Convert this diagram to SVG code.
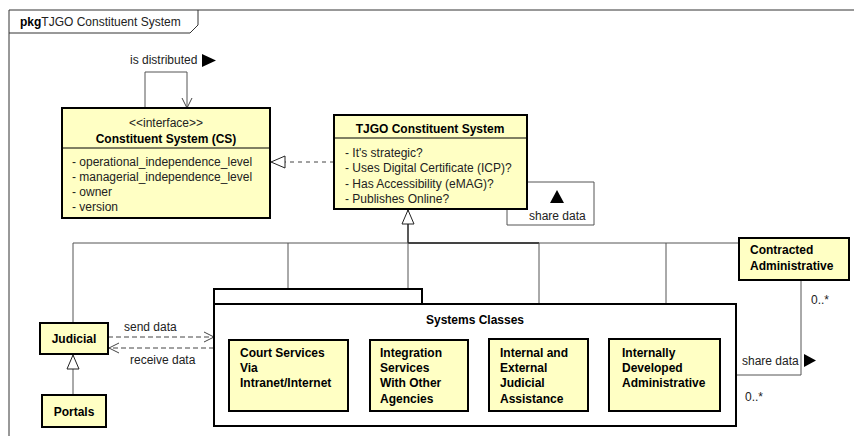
<svg xmlns="http://www.w3.org/2000/svg" width="854" height="436" viewBox="0 0 854 436">
<style>
text{font-family:"Liberation Sans",Arial,sans-serif;font-size:12px;fill:#222}
.b{font-weight:bold;fill:#000}
.a{font-size:12px}
.box{fill:#ffffc4;stroke:#000;stroke-width:2}
.ln{fill:none;stroke:#555;stroke-width:1}
.dash{fill:none;stroke:#444;stroke-width:1;stroke-dasharray:5,3}
.sep{stroke:#000;stroke-width:1}
</style>
<defs>
<marker id="open" viewBox="0 0 12 12" refX="11" refY="6" markerWidth="12" markerHeight="12" orient="auto" markerUnits="userSpaceOnUse"><path d="M1,1 L11,6 L1,11" fill="none" stroke="#444" stroke-width="1"/></marker>
<marker id="tri" viewBox="0 0 16 14" refX="15" refY="7" markerWidth="16" markerHeight="14" orient="auto" markerUnits="userSpaceOnUse"><path d="M1,1 L15,7 L1,13 Z" fill="#fff" stroke="#222" stroke-width="1"/></marker>
</defs>
<rect width="854" height="436" fill="#fff"/>
<g id="frame">
<path d="M9,440 L9,10 L860,10" fill="none" stroke="#333" stroke-width="1"/>
<path d="M9,33 L190,33 L198,25 L198,10" fill="none" stroke="#333" stroke-width="1"/>
<text x="20" y="26"><tspan class="b">pkg</tspan>TJGO Constituent System</text>
</g>
<g id="connectors">
<path class="ln" d="M145,108 L145,72 L187,72 L187,108" marker-end="url(#open)"/>
<text x="130" y="64" font-size="13">is distributed</text>
<path d="M202,54 L216,60.5 L202,67 Z" fill="#000"/>
<path class="dash" d="M334,162 L271,162" marker-end="url(#tri)" style="stroke-dasharray:4,4"/>
<path class="ln" d="M527,182 L594,182 L594,225 L507,225 L507,209"/>
<path d="M557,190 L564,203 L550,203 Z" fill="#000"/>
<text x="529" y="220">share data</text>
<path d="M408,243 L408,210" fill="none" stroke="#222" stroke-width="1.5" marker-end="url(#tri)"/>
<path class="ln" d="M73,323 L73,243 L739,243"/>
<path d="M408,243 L539,243" stroke="#222" stroke-width="1.5"/>
<path class="ln" d="M288,243 L288,340 M408,243 L408,340 M539,243 L539,339 M666,243 L666,339"/>
<path class="ln" d="M73,395 L73,355" marker-end="url(#tri)"/>
<path class="dash" d="M108,337 L214,337" marker-end="url(#open)"/>
<path class="dash" d="M214,348 L109,348" marker-end="url(#open)"/>
<text x="124" y="331">send data</text>
<text x="130" y="364">receive data</text>
<path class="ln" d="M720,375 L801,375 L801,280"/>
<text x="742" y="365">share data</text>
<path d="M804,354 L816,360.5 L804,367 Z" fill="#000"/>
<text x="811" y="304">0..*</text>
<text x="745" y="401">0..*</text>
</g>
<g id="cs">
<rect class="box" x="62" y="108" width="208" height="110"/>
<line class="sep" x1="62" y1="148" x2="270" y2="148"/>
<text x="166" y="127" text-anchor="middle" font-size="11">&lt;&lt;interface&gt;&gt;</text>
<text class="b a" x="166" y="143" text-anchor="middle">Constituent System (CS)</text>
<text class="a" x="72" y="166">- operational_independence_level</text>
<text class="a" x="72" y="181">- managerial_independence_level</text>
<text class="a" x="72" y="196">- owner</text>
<text class="a" x="72" y="211">- version</text>
</g>
<g id="tjgo">
<rect class="box" x="334" y="115" width="193" height="94"/>
<line class="sep" x1="334" y1="138" x2="527" y2="138"/>
<text class="b a" x="430" y="133" text-anchor="middle">TJGO Constituent System</text>
<text class="a" x="345" y="157">- It's strategic?</text>
<text class="a" x="345" y="172">- Uses Digital Certificate (ICP)?</text>
<text class="a" x="345" y="188">- Has Accessibility (eMAG)?</text>
<text class="a" x="345" y="203">- Publishes Online?</text>
</g>
<g id="contracted">
<rect class="box" x="739" y="238" width="110" height="42"/>
<text class="b a" x="750" y="254">Contracted</text>
<text class="b a" x="750" y="270">Administrative</text>
</g>
<g id="judicial">
<rect class="box" x="40" y="323" width="68" height="31"/>
<text class="b a" x="74" y="343" text-anchor="middle">Judicial</text>
</g>
<g id="portals">
<rect class="box" x="42" y="395" width="64" height="32"/>
<text class="b a" x="74" y="416" text-anchor="middle">Portals</text>
</g>
<g id="systems-classes">
<rect x="214" y="289" width="208" height="15" fill="#fff" stroke="#000" stroke-width="2"/>
<rect x="214" y="304" width="522" height="122" fill="#fff" stroke="#000" stroke-width="2"/>
<text class="b a" x="475" y="324" text-anchor="middle">Systems Classes</text>
</g>
<g id="court">
<rect class="box" x="229" y="340" width="119" height="71"/>
<text class="b a" x="240" y="357">Court Services</text>
<text class="b a" x="240" y="372">Via</text>
<text class="b a" x="240" y="387">Intranet/Internet</text>
</g>
<g id="integration">
<rect class="box" x="370" y="340" width="98" height="71"/>
<text class="b a" x="380" y="357">Integration</text>
<text class="b a" x="380" y="372">Services</text>
<text class="b a" x="380" y="387">With Other</text>
<text class="b a" x="380" y="403">Agencies</text>
</g>
<g id="internal-external">
<rect class="box" x="489" y="339" width="99" height="72"/>
<text class="b a" x="500" y="357">Internal and</text>
<text class="b a" x="500" y="372">External</text>
<text class="b a" x="500" y="387">Judicial</text>
<text class="b a" x="500" y="403">Assistance</text>
</g>
<g id="internally-developed">
<rect class="box" x="609" y="339" width="111" height="72"/>
<text class="b a" x="622" y="357">Internally</text>
<text class="b a" x="622" y="372">Developed</text>
<text class="b a" x="622" y="387">Administrative</text>
</g>
</svg>
